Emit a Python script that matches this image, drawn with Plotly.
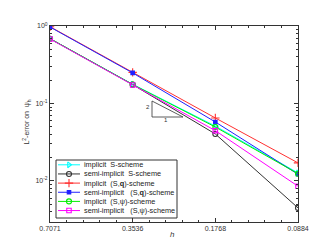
import math
import plotly.graph_objects as go

h = [0.7071, 0.3536, 0.1768, 0.0884]
h_labels = ["0.7071", "0.3536", "0.1768", "0.0884"]

implicit_S = [0.686, 0.177, 0.0510, 0.0127]
semi_S = [0.686, 0.175, 0.0404, 0.00449]
implicit_Sq = [0.98, 0.252, 0.0650, 0.0171]
semi_Sq = [0.97, 0.248, 0.0577, 0.0122]
implicit_Spsi = [0.686, 0.176, 0.0497, 0.0124]
semi_Spsi = [0.680, 0.173, 0.0446, 0.00855]

names = [
    "implicit  S-scheme",
    "semi-implicit  S-scheme",
    "implicit  (S,<b>q</b>)-scheme",
    "semi-implicit   (S,<b>q</b>)-scheme",
    "implicit  (S,ψ)-scheme",
    "semi-implicit   (S,ψ)-scheme",
]
values = [implicit_S, semi_S, implicit_Sq, semi_Sq, implicit_Spsi, semi_Spsi]
colors = ["#00FFFF", "#333333", "#FF3030", "#2020FF", "#00EE00", "#FF00FF"]
symbols = ["triangle-right-open", "circle-open", "cross-thin-open", "square", "circle-open", "square-open"]
sizes = [5, 5, 6, 3.5, 5, 4.5]

FONT = "Liberation Sans, Arial, sans-serif"
W, H = 321, 241
L, R, T, B = 42, 31, 18, 27
PX0, PX1, PY0, PY1 = L, W - R, T, H - B  # plot area in pixels

fig = go.Figure()
for name, vals, col, sym, sz in zip(names, values, colors, symbols, sizes):
    fig.add_trace(go.Scatter(
        x=h, y=vals, name=name, mode="lines+markers", showlegend=False,
        line=dict(color=col, width=1),
        marker=dict(symbol=sym, size=sz, color=col, line=dict(color=col, width=1.1)),
    ))

# custom compact legend drawn on a pixel-space overlay axis
LEG_X0, LEG_X1, LEG_Y0, LEG_Y1 = 48, 169, 152, 210
row_y0, row_dy = 156.8, 9.15
line_x0, line_x1, text_x = 50, 72, 74
fig.add_shape(type="rect", xref="x2", yref="y2", x0=LEG_X0, x1=LEG_X1, y0=LEG_Y0, y1=LEG_Y1,
              line=dict(color="#333333", width=1), fillcolor="white", layer="below")
for i, (name, col, sym, sz) in enumerate(zip(names, colors, symbols, sizes)):
    yy = row_y0 + i * row_dy
    fig.add_trace(go.Scatter(x=[line_x0, line_x1], y=[yy, yy], mode="lines", xaxis="x2", yaxis="y2",
                             showlegend=False, hoverinfo="skip", line=dict(color=col, width=1)))
    fig.add_trace(go.Scatter(x=[(line_x0 + line_x1) / 2], y=[yy], mode="markers", xaxis="x2", yaxis="y2",
                             showlegend=False, hoverinfo="skip",
                             marker=dict(symbol=sym, size=sz, color=col, line=dict(color=col, width=1.1))))
    fig.add_annotation(x=text_x, y=yy, xref="x2", yref="y2", text=name, showarrow=False,
                       xanchor="left", yanchor="middle",
                       font=dict(family=FONT, size=7.3, color="#222222"))

# minor ticks
x_minor = []
for a, b in zip(h[:-1], h[1:]):
    la, lb = math.log10(a), math.log10(b)
    for k in range(1, 5):
        x_minor.append(10 ** (la + (lb - la) * k / 5))
y_minor = [m * 10 ** e for e in (-3, -2, -1) for m in range(2, 10) if m * 10 ** e >= 0.0029]

tickfont = dict(family=FONT, size=7, color="#333333")

fig.update_layout(
    width=W, height=H,
    margin=dict(l=L, r=R, t=T, b=B, autoexpand=False),
    paper_bgcolor="white", plot_bgcolor="white",
    showlegend=False,
    xaxis=dict(
        type="log", range=[math.log10(0.7071), math.log10(0.0884)],
        tickmode="array", tickvals=h, ticktext=h_labels,
        ticks="inside", ticklen=4, tickcolor="#333333",
        showline=True, linecolor="#333333", linewidth=1, mirror="allticks",
        showgrid=False, zeroline=False, tickfont=tickfont, automargin=False,
        minor=dict(tickmode="array", tickvals=x_minor, ticks="inside", ticklen=2, tickcolor="#333333", showgrid=False),
    ),
    yaxis=dict(
        type="log", range=[-2.53, 0],
        tickmode="array", tickvals=[1, 0.1, 0.01],
        ticktext=["10<sup>0</sup>", "10<sup>-1</sup>", "10<sup>-2</sup>"],
        ticks="inside", ticklen=4, tickcolor="#333333",
        showline=True, linecolor="#333333", linewidth=1, mirror="allticks",
        showgrid=False, zeroline=False, tickfont=tickfont, automargin=False,
        minor=dict(tickmode="array", tickvals=y_minor, ticks="inside", ticklen=2, tickcolor="#333333", showgrid=False),
    ),
    xaxis2=dict(overlaying="x", range=[PX0, PX1], visible=False, fixedrange=True),
    yaxis2=dict(overlaying="y", range=[PY1, PY0], visible=False, fixedrange=True),
)

# axis titles
fig.add_annotation(x=(12 - PX0) / (PX1 - PX0), y=0.51, xref="paper", yref="paper",
                   text="L<sup>2</sup>-error on  ψ<sub>h</sub>", textangle=-90, showarrow=False,
                   font=dict(family=FONT, size=7, color="#333333"))
fig.add_annotation(x=(164 - PX0) / (PX1 - PX0), y=(PY1 - 233) / (PY1 - PY0), xref="paper", yref="paper",
                   text="<i>h</i>", showarrow=False,
                   font=dict(family=FONT, size=8, color="#333333"))

# slope triangle (pixel overlay)
fig.add_shape(type="path", xref="x2", yref="y2",
              path="M 144 93 L 144 109 L 175 109 Z",
              line=dict(color="#333333", width=0.8))
fig.add_annotation(x=140, y=99, xref="x2", yref="y2", text="2", showarrow=False,
                   font=dict(family=FONT, size=6, color="#333333"))
fig.add_annotation(x=158, y=112, xref="x2", yref="y2", text="1", showarrow=False,
                   font=dict(family=FONT, size=6, color="#333333"))

fig.write_html("out.html")
